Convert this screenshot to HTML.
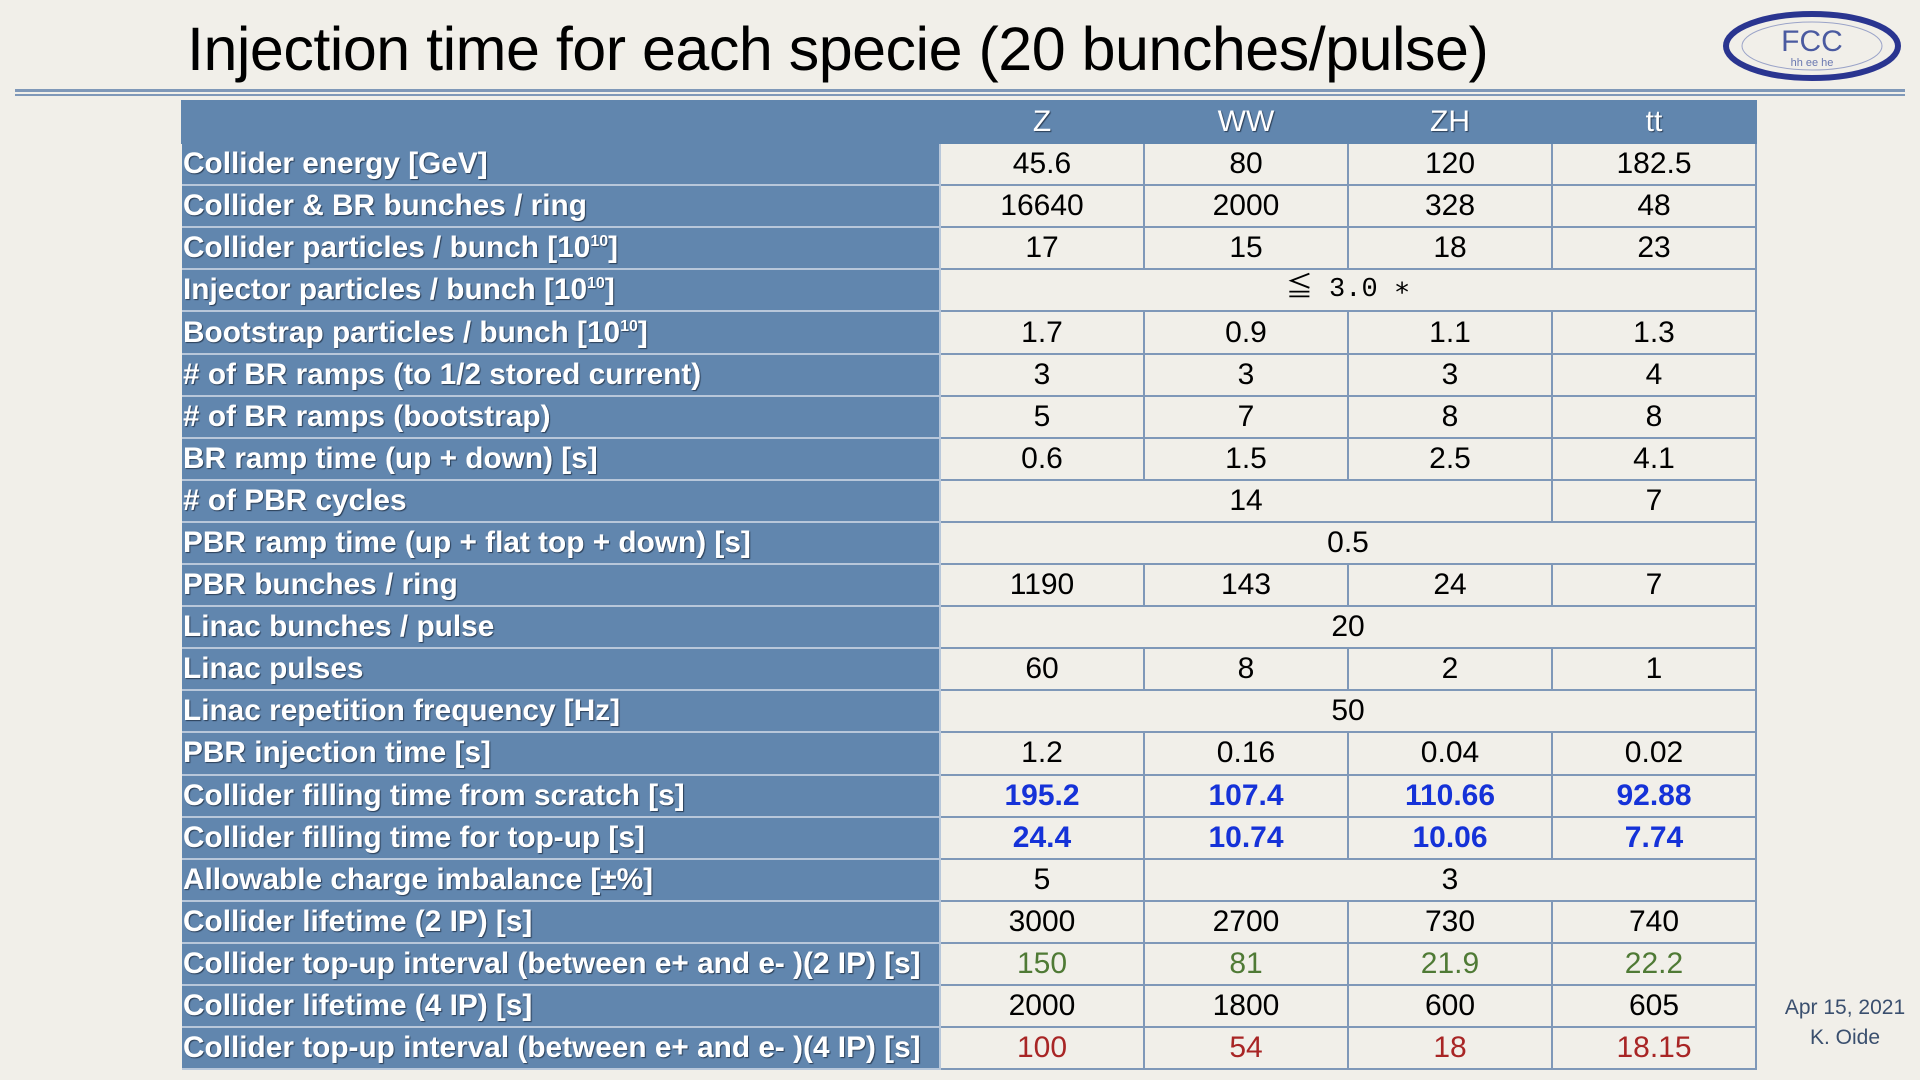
<!DOCTYPE html>
<html><head><meta charset="utf-8">
<style>
html,body{margin:0;padding:0}
body{width:1920px;height:1080px;background:#f1efe9;position:relative;overflow:hidden;font-family:"Liberation Sans",sans-serif}
#title{position:absolute;left:187px;top:14px;font-size:61px;color:#000;white-space:nowrap;letter-spacing:-0.5px}
.rule{position:absolute;left:15px;width:1890px;background:#7f98b8}
#tbl{position:absolute;left:181px;top:100px;border-collapse:collapse;table-layout:fixed;width:1576px}
#tbl td{height:40.1px;padding:0;border:2px solid #7f98b8;text-align:center;font-size:30px;color:#000;line-height:36px;white-space:nowrap;overflow:hidden}
#tbl td.lab{background:#6186ae;color:#fff;text-align:left;font-weight:bold;font-size:29.8px;text-shadow:1px 1px 1px #2a3d55;border-color:#b8c7da;border-left:none;padding-left:1px;overflow:visible}
#tbl tr.hd td{background:#6186ae;color:#fff;font-size:30px;border-color:#6186ae;text-shadow:1px 1px 1px #2a3d55}
.b{color:#1532d8!important;font-weight:bold}
.g{color:#4f7a35!important}
.r{color:#a82525!important}
#foot{position:absolute;left:1770px;top:993px;width:150px;text-align:center;font-size:21px;color:#3a4f6e;line-height:30px}
</style></head><body>
<div id="title">Injection time for each specie (20 bunches/pulse)</div>
<div class="rule" style="top:89px;height:3px"></div>
<div class="rule" style="top:94px;height:2px"></div>
<svg style="position:absolute;left:1720px;top:6px" width="190" height="80">
<ellipse cx="92" cy="40" rx="86" ry="32" fill="none" stroke="#2a3590" stroke-width="6"/>
<ellipse cx="92" cy="40" rx="70" ry="24" fill="none" stroke="#9aa3c8" stroke-width="1"/>
<text x="92" y="45" text-anchor="middle" font-family="Liberation Sans" font-size="30" fill="#4a5aa0">FCC</text>
<text x="92" y="60" text-anchor="middle" font-family="Liberation Sans" font-size="11" fill="#6a78b0">hh ee he</text>
</svg>
<table id="tbl">
<colgroup><col style="width:758px"><col><col><col><col></colgroup>
<tbody id="tb"></tbody></table>
<div id="foot">Apr 15, 2021<br>K. Oide</div>
<script>
const species=["Z","WW","ZH","tt"];
const labels=["Collider energy [GeV]","Collider &amp; BR bunches / ring","Collider particles / bunch [10<sup style='font-size:16px;line-height:0'>10</sup>]","Injector particles / bunch [10<sup style='font-size:16px;line-height:0'>10</sup>]","Bootstrap particles / bunch [10<sup style='font-size:16px;line-height:0'>10</sup>]","# of BR ramps (to 1/2 stored current)","# of BR ramps (bootstrap)","BR ramp time (up + down) [s]","# of PBR cycles","PBR ramp time (up + flat top + down) [s]","PBR bunches / ring","Linac bunches / pulse","Linac pulses","Linac repetition frequency [Hz]","PBR injection time [s]","Collider filling time from scratch [s]","Collider filling time for top-up [s]","Allowable charge imbalance [±%]","Collider lifetime (2 IP) [s]","Collider top-up interval (between e+ and e- )(2 IP) [s]","Collider lifetime (4 IP) [s]","Collider top-up interval (between e+ and e- )(4 IP) [s]"];
const values=[
[["45.6",1],["80",1],["120",1],["182.5",1]],
[["16640",1],["2000",1],["328",1],["48",1]],
[["17",1],["15",1],["18",1],["23",1]],
[["≦ 3.0 ∗",4]],
[["1.7",1],["0.9",1],["1.1",1],["1.3",1]],
[["3",1],["3",1],["3",1],["4",1]],
[["5",1],["7",1],["8",1],["8",1]],
[["0.6",1],["1.5",1],["2.5",1],["4.1",1]],
[["14",3],["7",1]],
[["0.5",4]],
[["1190",1],["143",1],["24",1],["7",1]],
[["20",4]],
[["60",1],["8",1],["2",1],["1",1]],
[["50",4]],
[["1.2",1],["0.16",1],["0.04",1],["0.02",1]],
[["195.2",1],["107.4",1],["110.66",1],["92.88",1]],
[["24.4",1],["10.74",1],["10.06",1],["7.74",1]],
[["5",1],["3",3]],
[["3000",1],["2700",1],["730",1],["740",1]],
[["150",1],["81",1],["21.9",1],["22.2",1]],
[["2000",1],["1800",1],["600",1],["605",1]],
[["100",1],["54",1],["18",1],["18.15",1]]
];
const rowClass={15:"b",16:"b",19:"g",21:"r"};
const tb=document.getElementById("tb");
const hr=document.createElement("tr");hr.className="hd";


const h0=document.createElement("td");


hr.appendChild(h0);
species.forEach(s=>{const td=document.createElement("td");td.textContent=s;


hr.appendChild(td);});
tb.appendChild(hr);
labels.forEach((l,i)=>{
 const tr=document.createElement("tr");
 
 
 const lt=document.createElement("td");lt.className="lab";lt.innerHTML=l;
 
 
 tr.appendChild(lt);
 values[i].forEach(v=>{const td=document.createElement("td");td.textContent=v[0];td.colSpan=v[1];
  if(v[0].indexOf("3.0")>=0){td.style.fontFamily='"Liberation Mono","Noto Sans CJK JP",monospace';td.style.fontSize='27px';}
  if(rowClass[i])td.className=rowClass[i];
  
  
  tr.appendChild(td);});
 tb.appendChild(tr);
});
</script>
</body></html>
